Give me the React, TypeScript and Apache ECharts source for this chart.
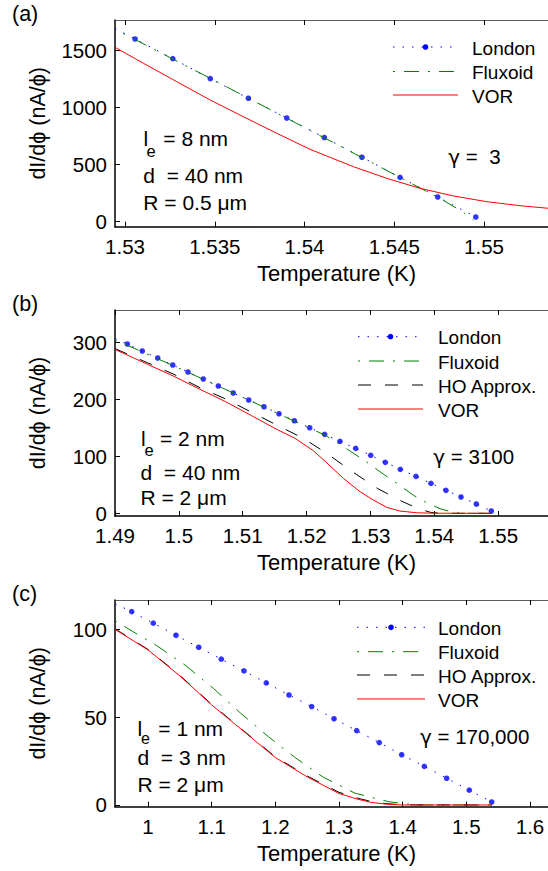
import React, { useEffect, useRef } from 'react';
import * as echarts from 'echarts';

const FONT = '"Liberation Sans", Arial, Helvetica, sans-serif';
const GFONT = '"DejaVu Sans", "Liberation Sans", sans-serif';

// ---------- Panel (a) ----------
const aXTicks = [1.53, 1.535, 1.54, 1.545, 1.55];
const aYTicks = [0, 500, 1000, 1500];
const aLondonStart = [1.52944, 1690];
const aLondon = [
  [1.53056, 1597], [1.53266, 1425], [1.53475, 1250], [1.53687, 1079], [1.53901, 906],
  [1.5411, 736], [1.5432, 563], [1.54532, 388], [1.54742, 216], [1.54954, 41],
];
const aFluxoid = [
  [1.5299, 1645], [1.535, 1233], [1.54, 823], [1.545, 413], [1.5474, 216], [1.5488, 88], [1.5494, 12],
];
const aVOR = [
  [1.52944, 1524], [1.53102, 1385], [1.53288, 1224], [1.53474, 1064], [1.53659, 918],
  [1.53845, 773], [1.5403, 633], [1.54272, 481], [1.54458, 379], [1.54643, 292],
  [1.54829, 225], [1.55015, 175], [1.552, 140], [1.5536, 117], [1.5545, 108],
];

// ---------- Panel (b) ----------
const bXTicks = [1.49, 1.5, 1.51, 1.52, 1.53, 1.54, 1.55];
const bYTicks = [0, 100, 200, 300];
const bLondonStart = [1.49, 307];
const bLondon = [
  [1.49193, 297.5], [1.49427, 285.2], [1.49669, 272.9], [1.49904, 260.6], [1.50143, 248.3],
  [1.50383, 236.0], [1.50618, 223.7], [1.50852, 211.4], [1.51094, 199.1], [1.51333, 187.3],
  [1.51568, 175.0], [1.51808, 162.7], [1.52049, 150.4], [1.52283, 138.8], [1.52523, 126.5],
  [1.52769, 114.2], [1.53004, 101.9], [1.53233, 89.6], [1.53468, 77.3], [1.53713, 65.0],
  [1.53948, 52.7], [1.54183, 40.4], [1.54418, 28.7], [1.54658, 16.3], [1.54893, 4.0],
];
const bFluxoid = [
  [1.49, 305], [1.5, 255], [1.51, 204], [1.52, 152], [1.5228, 138], [1.5258, 117],
  [1.5289, 94], [1.5315, 73], [1.5341, 53], [1.5367, 32], [1.5388, 18.6], [1.5409, 8.1],
  [1.5432, 1], [1.5445, 0], [1.549, 0],
];
const bHO = [
  [1.49, 289.5], [1.49506, 264.7], [1.49913, 244.8], [1.50331, 220.7], [1.50733, 200.9],
  [1.5114, 177.5], [1.51532, 155.2], [1.51949, 131.8], [1.52325, 104.7], [1.52717, 73.1],
  [1.53108, 43.9], [1.53474, 22.1], [1.5375, 8], [1.5395, 1.5], [1.541, 0], [1.549, 0],
];
const bVOR = [
  [1.49, 288], [1.49506, 262], [1.49913, 241.3], [1.50331, 217.9], [1.50733, 196.1],
  [1.5114, 171.5], [1.51532, 147.6], [1.51819, 131.8], [1.52106, 110], [1.52315, 88.9],
  [1.52576, 61.5], [1.52837, 38], [1.53045, 23.4], [1.53255, 10.5], [1.53463, 4],
  [1.53724, 1], [1.54, 0.2], [1.549, 0],
];

// ---------- Panel (c) ----------
const cXTicks = [1, 1.1, 1.2, 1.3, 1.4, 1.5, 1.6];
const cYTicks = [0, 50, 100];
const cLondonStart = [0.9482, 114.5];
const cLondon = [
  [0.97443, 110.1], [1.00835, 103.5], [1.04401, 96.6], [1.07966, 89.8], [1.11515, 83.0],
  [1.15081, 76.3], [1.1858, 69.5], [1.22149, 62.6], [1.25714, 56.0], [1.29216, 49.1],
  [1.32781, 42.3], [1.36332, 35.5], [1.39847, 28.6], [1.434, 22.0], [1.46914, 15.2],
  [1.50466, 8.4], [1.53985, 1.7],
];
const cFluxoid = [
  [0.9482, 105], [0.97176, 99.7], [1.01369, 90.7], [1.05814, 79.7], [1.10265, 66.4],
  [1.14563, 52.2], [1.189, 38.9], [1.23248, 26.6], [1.27535, 15.8], [1.3251, 6.7],
  [1.3775, 1.9], [1.4037, 0.6], [1.43, 0], [1.54, 0],
];
const cHO = [
  [0.9482, 100.3], [1.0, 88.6], [1.05, 73.8], [1.1, 57.3], [1.15, 42.3], [1.2, 27.4],
  [1.25, 16.5], [1.3, 7.2], [1.33, 3.8], [1.35, 2.0], [1.375, 0.7], [1.4, 0.1], [1.42, 0], [1.54, 0],
];
const cVOR = [
  [0.9482, 100], [1.0, 88.3], [1.05, 73.5], [1.1, 57], [1.15, 42], [1.2, 27], [1.25, 16],
  [1.3, 6.5], [1.33, 3.2], [1.35, 1.5], [1.375, 0.4], [1.4, 0], [1.54, 0],
];

const legendNames3 = ['London', 'Fluxoid', 'VOR'];
const legendNames4 = ['London', 'Fluxoid', 'HO Approx.', 'VOR'];

// ---------- layout ----------
const panels = [
  { top: 20, height: 206.7, xMin: 1.52944, xMax: 1.55412, yMin: -43.7, yMax: 1763, xTicks: aXTicks, yTicks: aYTicks,
    londonStart: aLondonStart, london: aLondon, fluxoid: aFluxoid, ho: null as number[][] | null, vor: aVOR },
  { top: 310, height: 206, xMin: 1.49, xMax: 1.55937, yMin: -4.7, yMax: 357.3, xTicks: bXTicks, yTicks: bYTicks,
    londonStart: bLondonStart, london: bLondon, fluxoid: bFluxoid, ho: bHO, vor: bVOR },
  { top: 600, height: 206.7, xMin: 0.9482, xMax: 1.64396, yMin: -1, yMax: 116.7, xTicks: cXTicks, yTicks: cYTicks,
    londonStart: cLondonStart, london: cLondon, fluxoid: cFluxoid, ho: cHO, vor: cVOR },
];

const BLUE = '#0000ff';
const GREEN = '#008000';
const RED = '#ff0000';
const LONDON_DASH = [1.5, 8];
const FLUX_DASH = [2, 9, 15, 9];
const HO_DASH = [13, 14];

function txt(x: number, y: number, text: string, size: number, align = 'left', rotation = 0) {
  return {
    type: 'text', x, y, rotation, silent: true,
    style: { text, fontSize: size, fontFamily: FONT, fill: '#000', align, verticalAlign: 'middle' },
  };
}

function gammaTxt(x: number, y: number, rest: string) {
  return {
    type: 'text', x, y, silent: true,
    style: {
      text: '{g|γ}{t|' + rest + '}', fill: '#000', align: 'left', verticalAlign: 'middle',
      rich: {
        g: { fontFamily: GFONT, fontSize: 20, fill: '#000' },
        t: { fontFamily: FONT, fontSize: 20.5, fill: '#000' },
      },
    },
  };
}

function legend(x0: number, x1: number, tx: number, ys: number[], names: string[]) {
  const els: any[] = [];
  names.forEach((n, i) => {
    const y = ys[i];
    let style: any = { stroke: RED, lineWidth: 1 };
    if (n === 'London') style = { stroke: BLUE, lineWidth: 1, lineDash: LONDON_DASH };
    if (n === 'Fluxoid') style = { stroke: GREEN, lineWidth: 1, lineDash: FLUX_DASH };
    if (n === 'HO Approx.') style = { stroke: '#000', lineWidth: 1, lineDash: HO_DASH };
    els.push({ type: 'line', silent: true, shape: { x1: x0, y1: y, x2: x1, y2: y }, style });
    if (n === 'London') {
      els.push({ type: 'circle', silent: true, shape: { cx: (x0 + x1) / 2, cy: y, r: 2.8 }, style: { fill: BLUE } });
    }
    els.push(txt(tx, y + 1, n, 19));
  });
  return els;
}

function buildOption() {
  const grid: any[] = [];
  const xAxis: any[] = [];
  const yAxis: any[] = [];
  const series: any[] = [];
  panels.forEach((p, i) => {
    grid.push({ left: 115, top: p.top, width: 443, height: p.height });
    xAxis.push({
      type: 'value', gridIndex: i, position: 'bottom', min: p.xMin, max: p.xMax,
      axisLine: { show: true, onZero: false, lineStyle: { color: '#000', width: 1.5 } },
      axisTick: { show: true, inside: true, length: 5, customValues: p.xTicks, lineStyle: { color: '#000', width: 1 } },
      axisLabel: { show: true, customValues: p.xTicks, margin: 9, fontSize: 20.5, fontFamily: FONT, color: '#000',
        formatter: (v: number) => String(v) },
      splitLine: { show: false },
    });
    yAxis.push({
      type: 'value', gridIndex: i, position: 'left', min: p.yMin, max: p.yMax,
      axisLine: { show: true, onZero: false, lineStyle: { color: '#000', width: 1.5 } },
      axisTick: { show: true, inside: true, length: 5, customValues: p.yTicks, lineStyle: { color: '#000', width: 1 } },
      axisLabel: { show: true, customValues: p.yTicks, margin: 8, fontSize: 20.5, fontFamily: FONT, color: '#000',
        formatter: (v: number) => String(v) },
      splitLine: { show: false },
    });
  });
  panels.forEach((p, i) => {
    xAxis.push({
      type: 'value', gridIndex: i, position: 'top', min: p.xMin, max: p.xMax,
      axisLine: { show: true, onZero: false, lineStyle: { color: '#333', width: 0.8 } },
      axisTick: { show: true, inside: true, length: 5, customValues: p.xTicks, lineStyle: { color: '#000', width: 1 } },
      axisLabel: { show: false },
      splitLine: { show: false },
    });
  });
  panels.forEach((p, i) => {
    const common = { xAxisIndex: i, yAxisIndex: i, silent: true, symbol: 'none', showSymbol: false, clip: true };
    series.push({ ...common, type: 'line', data: [p.londonStart, ...p.london],
      lineStyle: { color: BLUE, width: 1, type: LONDON_DASH } });
    series.push({ ...common, type: 'line', data: p.fluxoid,
      lineStyle: { color: GREEN, width: 1, type: FLUX_DASH } });
    series.push({ xAxisIndex: i, yAxisIndex: i, silent: true, type: 'scatter', data: p.london,
      symbol: 'circle', symbolSize: 5.6, itemStyle: { color: BLUE } });
    if (p.ho) {
      series.push({ ...common, type: 'line', data: p.ho,
        lineStyle: { color: '#000', width: 1, type: HO_DASH } });
    }
    series.push({ ...common, type: 'line', data: p.vor,
      lineStyle: { color: RED, width: 1, type: 'solid' } });
  });

  const g: any[] = [];
  // panel labels
  g.push(txt(12, 13.5, '(a)', 21.5));
  g.push(txt(12, 303.5, '(b)', 21.5));
  g.push(txt(12, 593.5, '(c)', 21.5));
  // axis titles
  panels.forEach((p) => {
    g.push(txt(38, p.top + p.height / 2, 'dI/dϕ (nA/ϕ)', 21.5, 'center', Math.PI / 2));
    g.push(txt(336.5, p.top + p.height + 46.7, 'Temperature (K)', 22, 'center'));
  });
  // annotations (a)
  g.push(txt(143.5, 138.3, 'l', 21));
  g.push(txt(146.5, 151, 'e', 16.5));
  g.push(txt(163.3, 138.3, '= 8 nm', 21));
  g.push(txt(143.3, 175.7, 'd\u00a0\u00a0= 40 nm', 21));
  g.push(txt(143.3, 202.7, 'R = 0.5 μm', 21));
  g.push(gammaTxt(448.3, 156.7, ' =\u00a0\u00a03'));
  // annotations (b)
  g.push(txt(141, 438.5, 'l', 21));
  g.push(txt(144.5, 449.5, 'e', 16.5));
  g.push(txt(160, 438.5, '= 2 nm', 21));
  g.push(txt(140.5, 472.5, 'd\u00a0\u00a0= 40 nm', 21));
  g.push(txt(140.5, 497, 'R = 2 μm', 21));
  g.push(gammaTxt(433.3, 456.7, ' = 3100'));
  // annotations (c)
  g.push(txt(137.5, 728.3, 'l', 21));
  g.push(txt(141, 738.5, 'e', 16));
  g.push(txt(158.3, 728.3, '= 1 nm', 21));
  g.push(txt(137.5, 757.5, 'd\u00a0\u00a0= 3 nm', 21));
  g.push(txt(137.5, 784, 'R = 2 μm', 21));
  g.push(gammaTxt(420, 736.7, ' = 170,000'));
  // legends
  g.push(...legend(393, 458, 472, [47, 71.5, 95], legendNames3));
  g.push(...legend(358, 423, 438, [336.7, 361, 385, 409], legendNames4));
  g.push(...legend(357, 425, 438, [627.3, 651.7, 675, 699], legendNames4));

  return {
    animation: false,
    backgroundColor: '#fff',
    grid, xAxis, yAxis, series,
    graphic: { elements: g },
  };
}

export default function App() {
  const ref = useRef<HTMLDivElement>(null);
  useEffect(() => {
    const chart = echarts.init(ref.current!, null, { renderer: 'svg' });
    chart.setOption(buildOption() as any);
    return () => chart.dispose();
  }, []);
  return (
    <div style={{ position: 'fixed', left: 0, top: 0, width: 548, height: 871, overflow: 'hidden', background: '#fff' }}>
      <div ref={ref} style={{ width: 600, height: 871 }} />
    </div>
  );
}
